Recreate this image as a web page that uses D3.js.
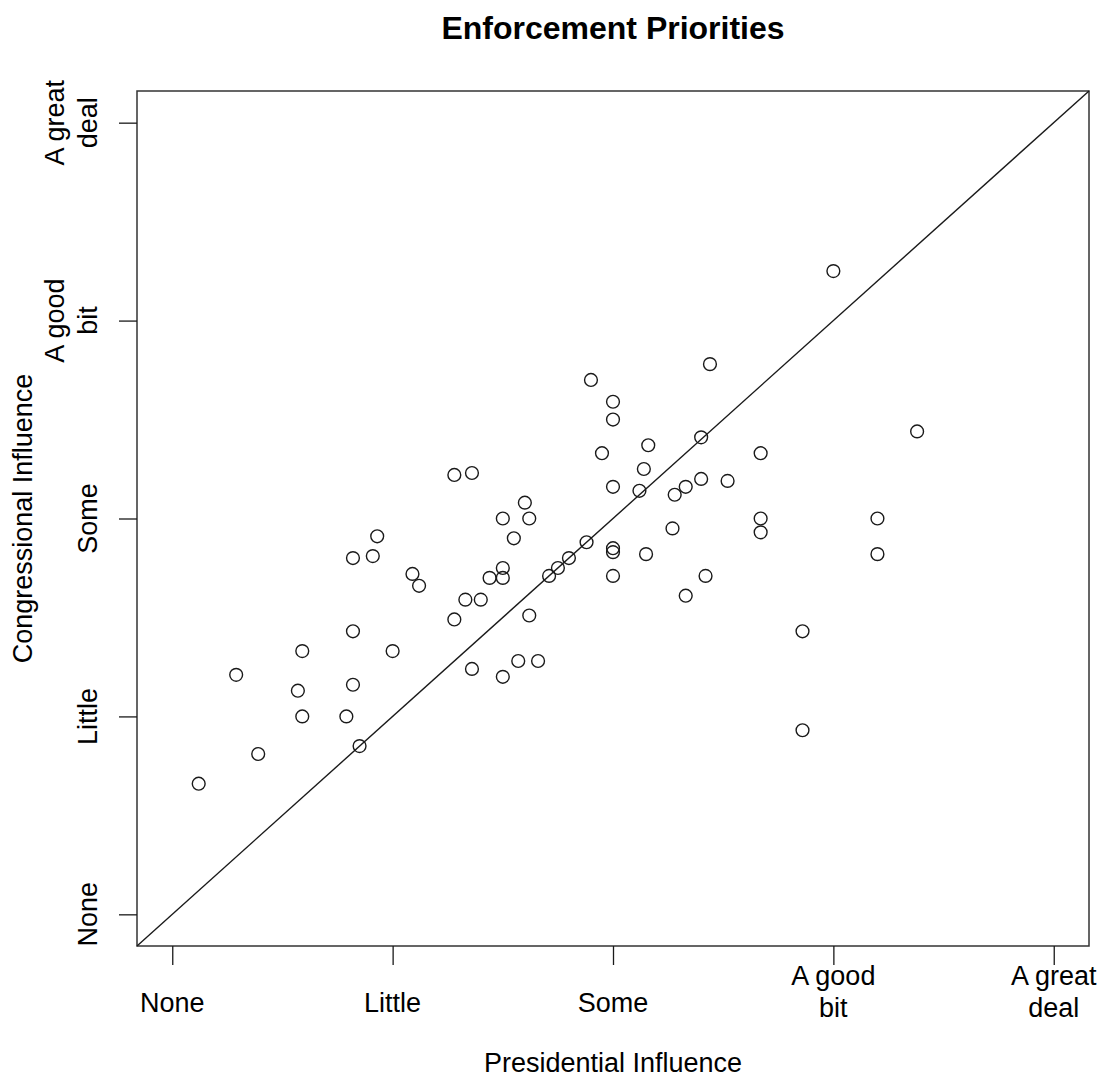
<!DOCTYPE html>
<html>
<head>
<meta charset="utf-8">
<script src="https://cdn.jsdelivr.net/npm/d3@7"></script>
<style>
  html, body { margin: 0; padding: 0; background: #fff; }
  svg { display: block; }
  text { font-family: "Liberation Sans", Arial, sans-serif; fill: #000; }
</style>
</head>
<body>
<svg id="chart" width="1102" height="1078"></svg>
<script>
// ---- Data ----
const title = "Enforcement Priorities";
const xTitle = "Presidential Influence";
const yTitle = "Congressional Influence";
const levelValues = [1, 2, 3, 4, 5];
const levelLabels = [["None"], ["Little"], ["Some"], ["A good", "bit"], ["A great", "deal"]];

const presidential = [
  1.12, 1.29, 1.39, 1.57, 1.59, 1.59, 1.79, 1.82, 1.82, 1.82,
  1.85, 1.91, 1.93, 2.00, 2.09, 2.12, 2.28, 2.36, 2.28, 2.33,
  2.40, 2.36, 2.44, 2.50, 2.50, 2.50, 2.50, 2.55, 2.57, 2.60,
  2.62, 2.62, 2.66, 2.71, 2.75, 2.80, 2.88, 2.90, 2.95, 3.00,
  3.00, 3.00, 3.00, 3.00, 3.00, 3.12, 3.14, 3.15, 3.16, 3.27,
  3.28, 3.33, 3.33, 3.40, 3.40, 3.42, 3.44, 3.52, 3.67, 3.67,
  3.67, 3.86, 3.86, 4.00, 4.20, 4.20, 4.38
];
const congressional = [
  1.66, 2.21, 1.81, 2.13, 2.33, 2.00, 2.00, 2.80, 2.43, 2.16,
  1.85, 2.81, 2.91, 2.33, 2.72, 2.66, 3.22, 3.23, 2.49, 2.59,
  2.59, 2.24, 2.70, 2.75, 2.70, 3.00, 2.20, 2.90, 2.28, 3.08,
  3.00, 2.51, 2.28, 2.71, 2.75, 2.80, 2.88, 3.70, 3.33, 3.59,
  3.50, 3.16, 2.85, 2.83, 2.71, 3.14, 3.25, 2.82, 3.37, 2.95,
  3.12, 3.16, 2.61, 3.41, 3.20, 2.71, 3.78, 3.19, 3.33, 3.00,
  2.93, 2.43, 1.93, 4.25, 3.00, 2.82, 3.44
];

// ---- Layout ----
const svg = d3.select("#chart");
const plotL = 137, plotR = 1089, plotT = 91, plotB = 946;
const x = d3.scaleLinear().domain([0.84, 5.16]).range([plotL, plotR]);
const y = d3.scaleLinear().domain([0.84, 5.16]).range([plotB, plotT]);
const ink = "#1a1a1a";
const fs = "27px";

// Title
svg.append("text")
  .attr("x", (plotL + plotR) / 2).attr("y", 39)
  .attr("text-anchor", "middle")
  .style("font-size", "32px").style("font-weight", "bold")
  .text(title);

// Plot box
svg.append("rect")
  .attr("x", plotL).attr("y", plotT)
  .attr("width", plotR - plotL).attr("height", plotB - plotT)
  .attr("fill", "none").attr("stroke", "#333").attr("stroke-width", 1.5);

// Diagonal reference line y = x
svg.append("line")
  .attr("x1", x(0.84)).attr("y1", y(0.84))
  .attr("x2", x(5.16)).attr("y2", y(5.16))
  .attr("stroke", ink).attr("stroke-width", 1.4);

// X axis (ticks)
const xAxis = d3.axisBottom(x).tickValues(levelValues).tickSize(19).tickFormat(() => "");
const gx = svg.append("g").attr("transform", `translate(0,${plotB})`).call(xAxis);
gx.select(".domain").remove();
gx.selectAll(".tick line").attr("stroke", ink).attr("stroke-width", 1.3);

// X tick labels
levelValues.forEach((v, i) => {
  const lines = levelLabels[i];
  const t = svg.append("text")
    .attr("text-anchor", "middle")
    .style("font-size", fs);
  if (lines.length === 1) {
    t.append("tspan").attr("x", x(v)).attr("y", 1012).text(lines[0]);
  } else {
    t.append("tspan").attr("x", x(v)).attr("y", 985).text(lines[0]);
    t.append("tspan").attr("x", x(v)).attr("y", 1017).text(lines[1]);
  }
});

// Y axis (ticks)
const yAxis = d3.axisLeft(y).tickValues(levelValues).tickSize(18).tickFormat(() => "");
const gy = svg.append("g").attr("transform", `translate(${plotL},0)`).call(yAxis);
gy.select(".domain").remove();
gy.selectAll(".tick line").attr("stroke", ink).attr("stroke-width", 1.3);

// Y tick labels (rotated)
levelValues.forEach((v, i) => {
  const lines = levelLabels[i];
  const yy = y(v);
  if (lines.length === 1) {
    svg.append("text")
      .attr("transform", `translate(97,${yy}) rotate(-90)`)
      .attr("text-anchor", "middle")
      .style("font-size", fs)
      .text(lines[0]);
  } else {
    svg.append("text")
      .attr("transform", `translate(64,${yy}) rotate(-90)`)
      .attr("text-anchor", "middle")
      .style("font-size", fs)
      .text(lines[0]);
    svg.append("text")
      .attr("transform", `translate(97,${yy}) rotate(-90)`)
      .attr("text-anchor", "middle")
      .style("font-size", fs)
      .text(lines[1]);
  }
});

// Axis titles
svg.append("text")
  .attr("x", (plotL + plotR) / 2).attr("y", 1072)
  .attr("text-anchor", "middle")
  .style("font-size", fs)
  .text(xTitle);
svg.append("text")
  .attr("transform", `translate(32,${(plotT + plotB) / 2}) rotate(-90)`)
  .attr("text-anchor", "middle")
  .style("font-size", fs)
  .text(yTitle);

// Points
const pts = presidential.map((p, i) => ({ p, c: congressional[i] }));
svg.append("g").selectAll("circle")
  .data(pts)
  .join("circle")
  .attr("cx", d => x(d.p))
  .attr("cy", d => y(d.c))
  .attr("r", 6.4)
  .attr("fill", "none")
  .attr("stroke", ink)
  .attr("stroke-width", 1.4);
</script>
</body>
</html>
